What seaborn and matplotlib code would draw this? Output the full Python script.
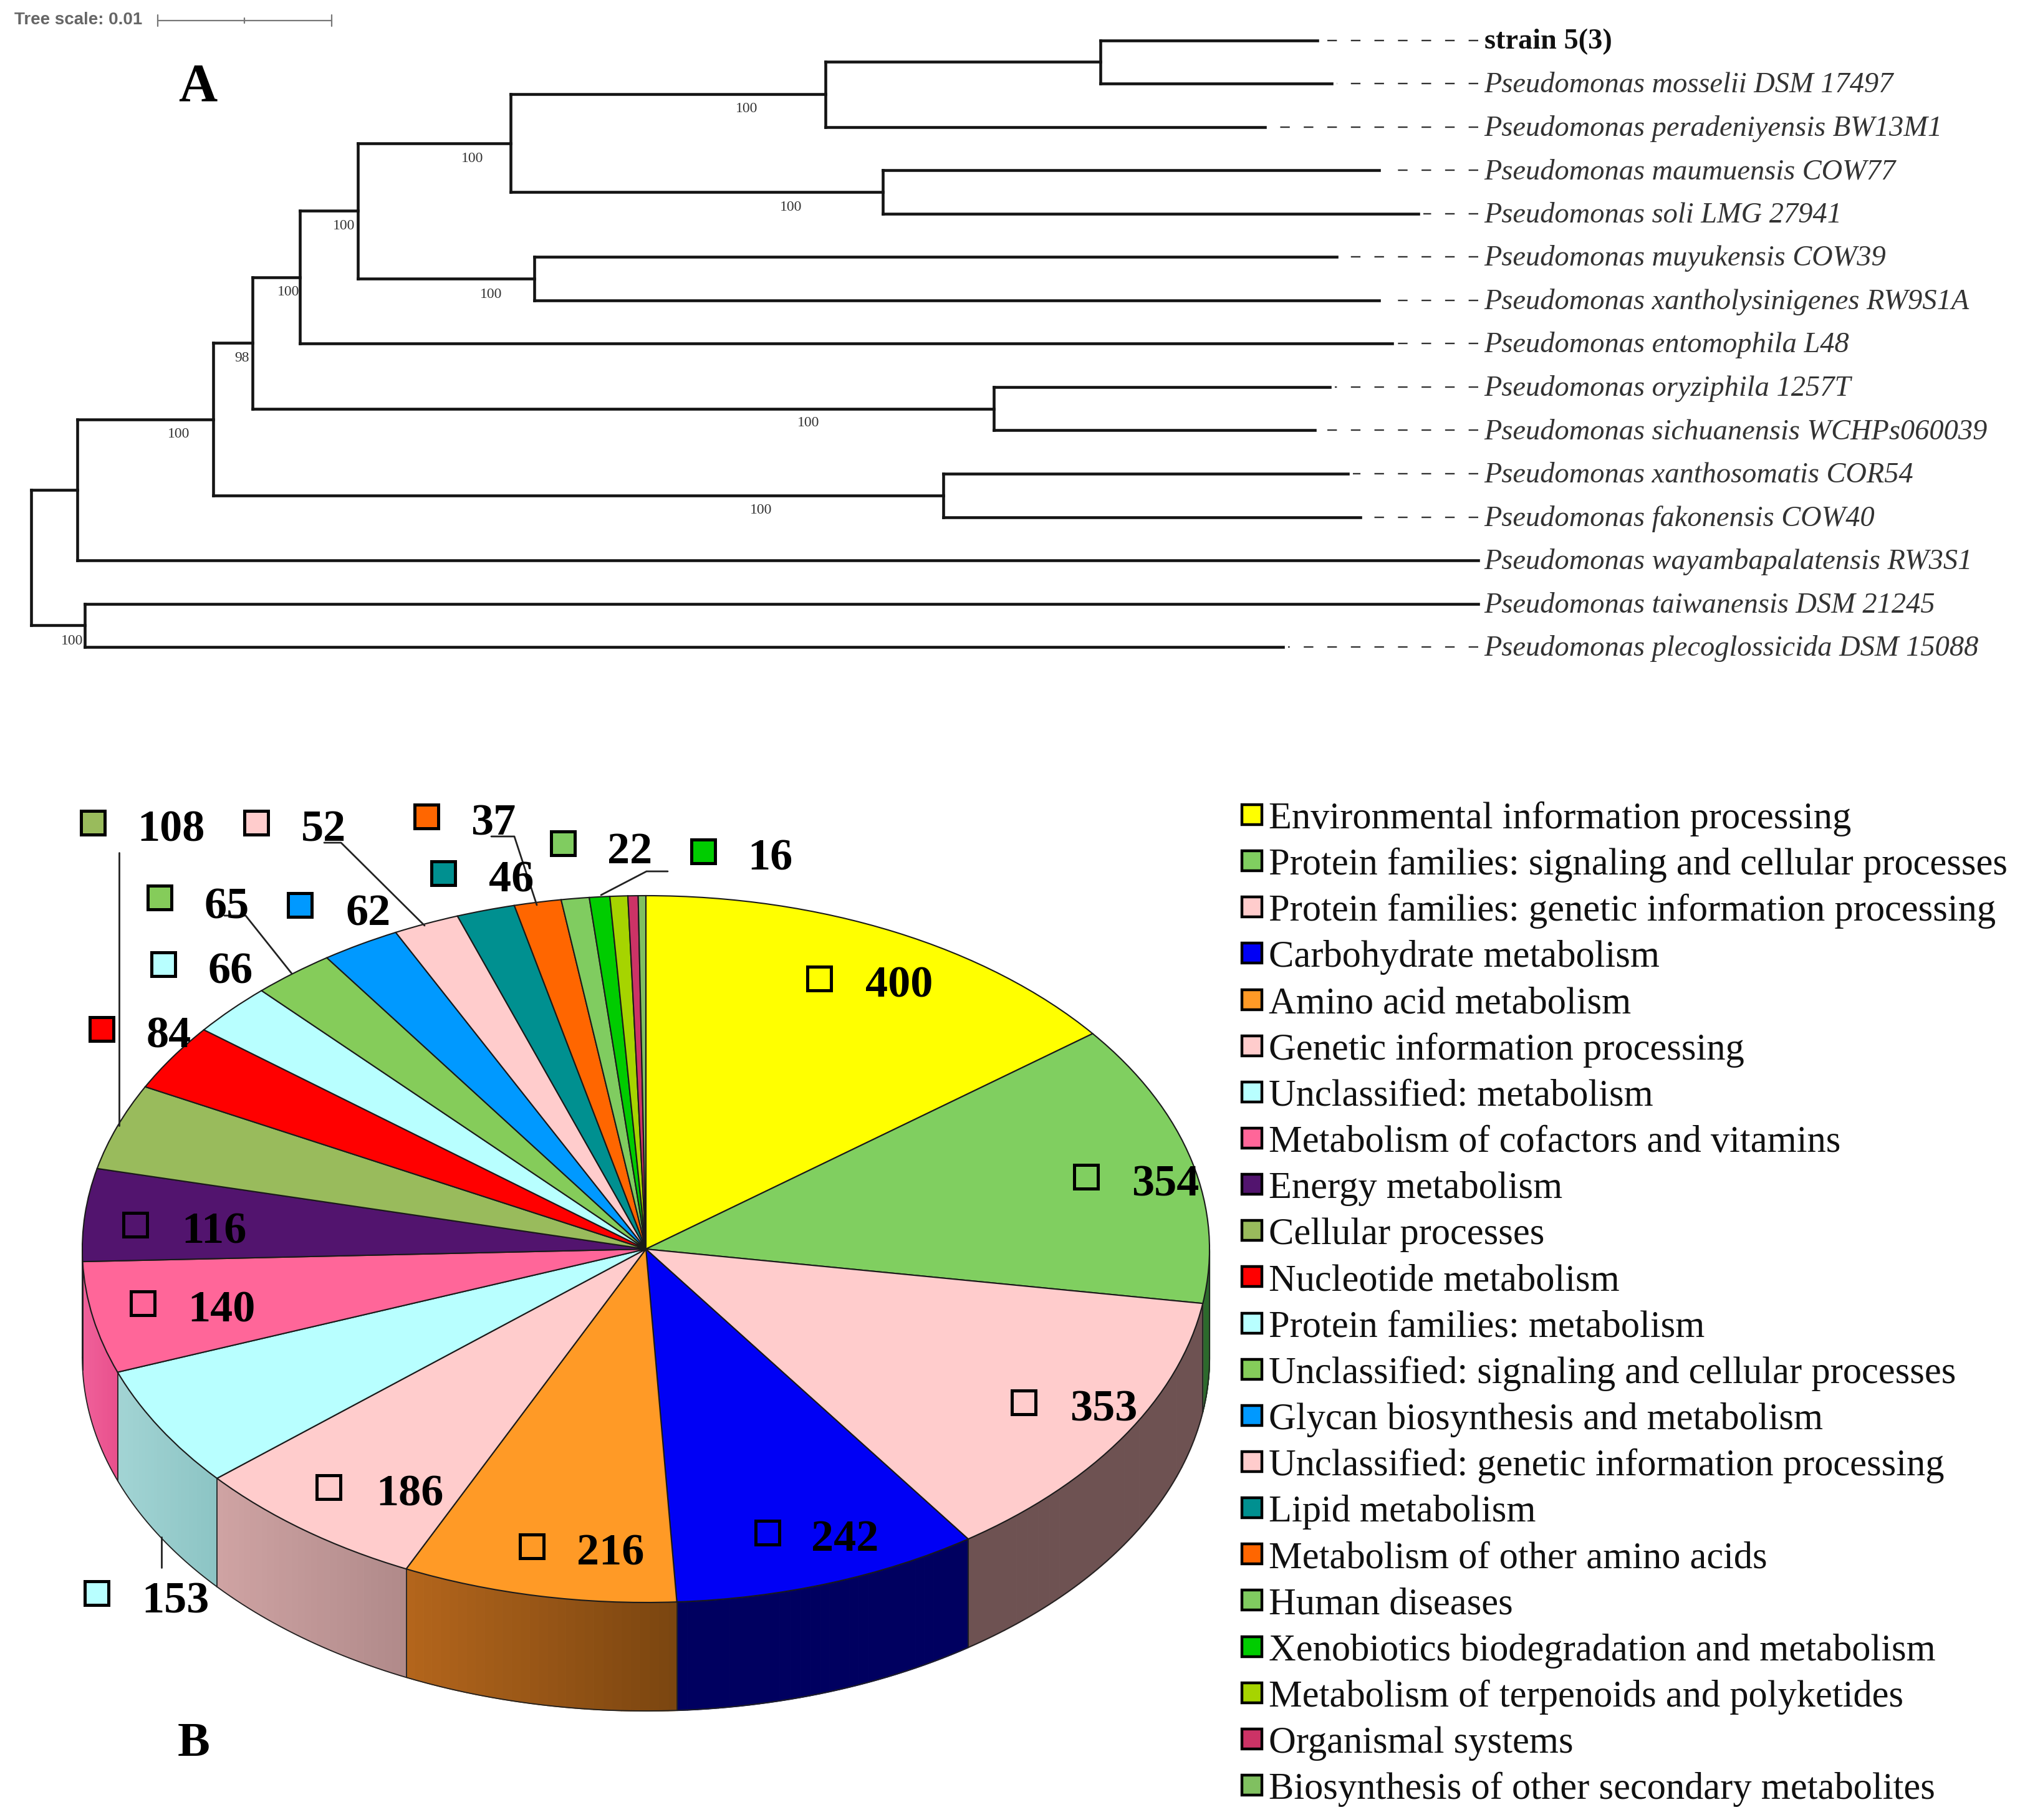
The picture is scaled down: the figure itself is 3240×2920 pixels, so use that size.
import numpy as np
import pandas as pd
import matplotlib
matplotlib.use("Agg")
import matplotlib.pyplot as plt
from matplotlib.colors import to_rgb
from matplotlib.patches import Rectangle
import seaborn as sns

# ---- tree data
species = ["strain 5(3)", "Pseudomonas mosselii DSM 17497", "Pseudomonas peradeniyensis BW13M1",
           "Pseudomonas maumuensis COW77", "Pseudomonas soli LMG 27941", "Pseudomonas muyukensis COW39",
           "Pseudomonas xantholysinigenes RW9S1A", "Pseudomonas entomophila L48", "Pseudomonas oryziphila 1257T",
           "Pseudomonas sichuanensis WCHPs060039", "Pseudomonas xanthosomatis COR54", "Pseudomonas fakonensis COW40",
           "Pseudomonas wayambapalatensis RW3S1", "Pseudomonas taiwanensis DSM 21245", "Pseudomonas plecoglossicida DSM 15088"]
leaf_depth = [.07394, .07477, .07093, .07749, .07975, .07505, .07749, .07824, .07466, .07380, .07570, .07642, .08319, .08319, .07197]
node_children = [(0, 1), (15, 2), (3, 4), (16, 17), (5, 6), (18, 19), (20, 7), (8, 9), (21, 22), (10, 11), (23, 24), (25, 12), (13, 14), (26, 27)]
node_depth = [.06147, .04566, .04896, .02756, .02892, .01878, .01545, .05534, .01272, .05244, .01047, .00265, .00308, 0.0]
support_text = ["100", "100", "100", "100", "100", "100", "98", "100", "100", "100", "100"]
support_pos = [(1198, 175), (758, 255), (1269, 332), (552, 362), (788, 472), (463, 469), (388, 575), (287, 696), (1297, 679), (1221, 819), (116, 1028)]

# ---- pie data
categories = ["Environmental information processing", "Protein families: signaling and cellular processes",
              "Protein families: genetic information processing", "Carbohydrate metabolism", "Amino acid metabolism",
              "Genetic information processing", "Unclassified: metabolism", "Metabolism of cofactors and vitamins",
              "Energy metabolism", "Cellular processes", "Nucleotide metabolism", "Protein families: metabolism",
              "Unclassified: signaling and cellular processes", "Glycan biosynthesis and metabolism",
              "Unclassified: genetic information processing", "Lipid metabolism", "Metabolism of other amino acids",
              "Human diseases", "Xenobiotics biodegradation and metabolism", "Metabolism of terpenoids and polyketides",
              "Organismal systems", "Biosynthesis of other secondary metabolites"]
counts = [400, 354, 353, 242, 216, 186, 153, 140, 116, 108, 84, 66, 65, 62, 52, 46, 37, 22, 16, 14, 8, 6]
colors = ["#FFFF00", "#80CF60", "#FFCCCC", "#0000F5", "#FF9A26", "#FFCCCC", "#B8FFFF", "#FF6699", "#52146E", "#99BB5C",
          "#FF0000", "#B8FFFF", "#85CC5A", "#0099FF", "#FFCCCC", "#009090", "#FF6600", "#80CC60", "#00CC00", "#A6D400",
          "#CC3366", "#80C060"]
wall_left = {1: "#2C6A2C", 2: "#6E5252", 3: "#000060", 4: "#B4661C", 5: "#CFA3A3", 6: "#A2D4D4", 7: "#F0609A", 8: "#3A0E50"}
wall_right = {1: "#2C6A2C", 2: "#6E5252", 3: "#000060", 4: "#7A4510", 5: "#B08A8A", 6: "#8CC4C4", 7: "#E8508C", 8: "#3A0E50"}
label_swatch = {0: (636, 760), 1: (843, 914), 2: (795, 1089), 3: (596, 1190), 4: (413, 1201), 5: (255, 1155), 6: (75, 1237),
                7: (111, 1012), 8: (105, 951), 9: (72, 639), 10: (79, 799), 11: (127, 749), 12: (124, 697), 13: (233, 703),
                14: (199, 639), 15: (344, 678), 16: (331, 634), 17: (437, 655), 18: (546, 661)}
label_num = {0: (698, 763), 1: (905, 917), 2: (857, 1092), 3: (656, 1193), 4: (474, 1204), 5: (318, 1158), 6: (136, 1241),
             7: (172, 1015), 8: (166, 954), 9: (133, 642), 10: (131, 802), 11: (179, 752), 12: (176, 702), 13: (286, 707),
             14: (251, 642), 15: (397, 681), 16: (383, 637), 17: (489, 659), 18: (598, 664)}
leaders = [[(191, 1368), (191, 1806)], [(520, 1352), (547, 1352), (681, 1485)], [(788, 1342), (825, 1342), (861, 1452)],
           [(1071, 1398), (1037, 1398), (964, 1436)], [(360, 1469), (394, 1469), (468, 1562)], [(259, 2466), (259, 2515)]]

W, H = 3240, 2920
SERIF = "Liberation Serif"
SANS = "Liberation Sans"
sns.set_theme(style="white")
plt.rcParams["font.family"] = [SERIF, "DejaVu Serif"]
fig = plt.figure(figsize=(W / 100, H / 100), dpi=100, facecolor="white")

# ---- tree axes: depth on x, leaf index on y, spanning the whole figure
ax_t = fig.add_axes([0, 0, 1, 1], facecolor="none")
px_per_unit, x0 = 27900.0, 50.0
y0, dy = 64.5, 69.55
ax_t.set_xlim((0 - x0) / px_per_unit, (W - x0) / px_per_unit)
ax_t.set_ylim((H - y0) / dy, (0 - y0) / dy)
ax_t.axis("off")

depth = list(leaf_depth) + list(node_depth)
ypos = list(range(len(species))) + [0.0] * len(node_children)
rows = []
for k, (a, b) in enumerate(node_children):
    i = len(species) + k
    ypos[i] = (ypos[a] + ypos[b]) / 2
    rows += [(f"v{k}", depth[i], ypos[a]), (f"v{k}", depth[i], ypos[b])]
    rows += [(f"a{k}", depth[i], ypos[a]), (f"a{k}", depth[a], ypos[a])]
    rows += [(f"b{k}", depth[i], ypos[b]), (f"b{k}", depth[b], ypos[b])]
tree_df = pd.DataFrame(rows, columns=["seg", "x", "y"])
sns.lineplot(data=tree_df, x="x", y="y", units="seg", estimator=None, sort=False, color="#141414",
             linewidth=3.3, ax=ax_t, legend=False, solid_capstyle="projecting")
max_depth = max(leaf_depth)
dash_rows = []
for i, d in enumerate(leaf_depth):
    if d < max_depth:
        dash_rows += [(i, max_depth, i), (i, d + 8 / px_per_unit, i)]
dash_df = pd.DataFrame(dash_rows, columns=["seg", "x", "y"])
for s, g in dash_df.groupby("seg"):
    sns.lineplot(data=g, x="x", y="y", estimator=None, sort=False, color="#333333", linewidth=1.7,
                 ax=ax_t, legend=False, dashes=(6.5, 9.5))
for i, name in enumerate(species):
    bold = i == 0
    ax_t.annotate(name, (max_depth, i), xytext=(7, -14 * 0.72), textcoords="offset points", fontsize=33.4,
                  style="normal" if bold else "italic", weight="bold" if bold else "normal",
                  color="#111111" if bold else "#333333", va="baseline", ha="left", family=SERIF)

# ---- pie axes: unit radius, squashed to the ellipse
cx, cy, rx, ry, wall = 1036.0, 2004.0, 904.0, 567.0, 174.0
pad = 1.5
ax_p = fig.add_axes([(cx - rx * pad) / W, 1 - (cy + ry * pad) / H, 2 * rx * pad / W, 2 * ry * pad / H], facecolor="none")
depth_u = wall / ry
vals = np.array(counts, float)
edges = np.concatenate([[0], np.cumsum(vals)]) / vals.sum() * 2 * np.pi
lo, hi = np.pi / 2, 3 * np.pi / 2
for i in wall_left:
    t0, t1 = max(edges[i], lo), min(edges[i + 1], hi)
    c0, c1 = np.array(to_rgb(wall_left[i])), np.array(to_rgb(wall_right[i]))
    ts = np.linspace(t0, t1, 31)
    xs = np.sin(ts)
    for a, b in zip(ts[:-1], ts[1:]):
        sub = np.linspace(a, b, 4)
        f = (np.sin(.5 * (a + b)) - xs.min()) / max(xs.max() - xs.min(), 1e-6)
        col = tuple(c0 + (c1 - c0) * f)
        ax_p.fill_between(np.sin(sub), np.cos(sub), np.cos(sub) - depth_u, facecolor=col, edgecolor=col, linewidth=0.8, zorder=1)
    if edges[i + 1] < hi:
        ax_p.plot([np.sin(t1)] * 2, [np.cos(t1), np.cos(t1) - depth_u], color="#222222", lw=1.3, zorder=2)
tt = np.linspace(lo, hi, 400)
ax_p.plot(np.sin(tt), np.cos(tt) - depth_u, color="#222222", lw=1.3, zorder=2)
ax_p.plot([1, 1], [0, -depth_u], color="#222222", lw=1.3, zorder=2)
ax_p.plot([-1, -1], [0, -depth_u], color="#222222", lw=1.3, zorder=2)
ax_p.pie(counts, colors=colors, startangle=90, counterclock=False, radius=1,
         wedgeprops=dict(edgecolor="#1a1a1a", linewidth=1.5, zorder=3))
ax_p.set_aspect("auto")
ax_p.set_xlim(-pad, pad)
ax_p.set_ylim(-pad, pad)
ax_p.axis("off")

# ---- overlay in pixels: annotations, legend, panel letters
ax = fig.add_axes([0, 0, 1, 1], facecolor="none")
ax.set_xlim(0, W)
ax.set_ylim(H, 0)
ax.axis("off")
K = 2.066

ax.text(23, 32, "Tree scale: 0.01", family=SANS, weight="bold", fontsize=20, color="#666666", va="center", ha="left")
ax.plot([253, 532], [33, 33], color="#777777", lw=1.6)
for xb, hb in [(253, 9), (392, 4), (532, 9)]:
    ax.plot([xb, xb], [33 - hb, 33 + hb], color="#777777", lw=1.6)
ax.text(317, 161, "A", weight="bold", fontsize=62, color="black", ha="center", va="baseline")
ax.text(311, 2817, "B", weight="bold", fontsize=56, color="black", ha="center", va="baseline")

for t, (x, y) in zip(support_text, support_pos):
    ax.text(x, y, t, fontsize=17, color="#333333", ha="center", va="center")

for pts in leaders:
    p = np.array(pts)
    ax.plot(p[:, 0], p[:, 1], color="#222222", lw=2.0, zorder=4)

for i, (x, y) in label_swatch.items():
    x, y = x * K, y * K
    ax.add_patch(Rectangle((x - 19, y - 19), 38, 38, facecolor=colors[i], edgecolor="black", lw=3.6, zorder=5))
    nx, ny = label_num[i]
    ax.text(nx * K, ny * K + 6, str(counts[i]), fontsize=52, weight="bold", color="black", ha="center", va="center", zorder=6)

for i, name in enumerate(categories):
    yc = 1307 + 74.14 * i
    ax.add_patch(Rectangle((1992, yc - 16), 32, 32, facecolor=colors[i], edgecolor="black", lw=3.2, zorder=5))
    ax.text(2035, yc + 22, name, fontsize=43.6, color="#111111", ha="left", va="baseline")

fig.savefig("out.png", dpi=100, facecolor="white")
